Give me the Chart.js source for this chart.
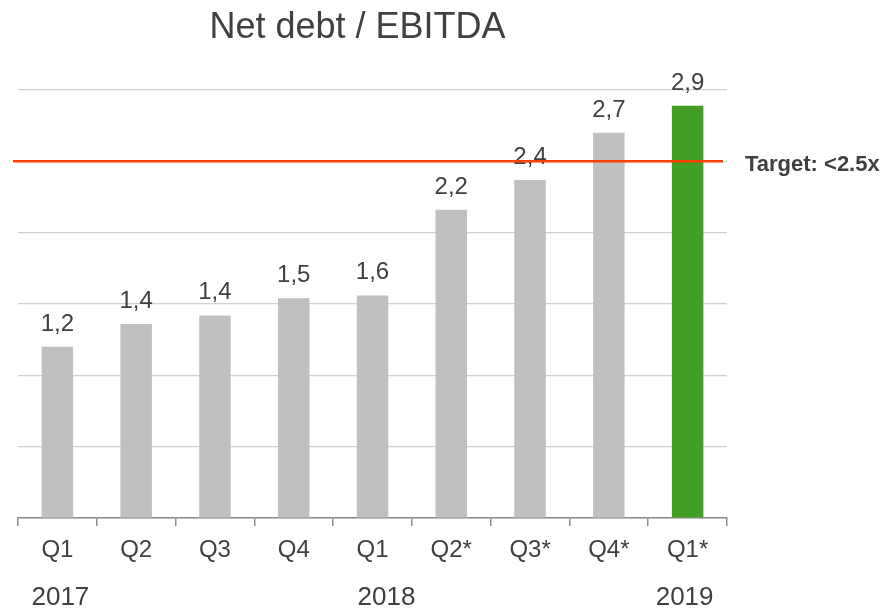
<!DOCTYPE html>
<html>
<head>
<meta charset="utf-8">
<script src="https://cdn.jsdelivr.net/npm/chart.js@4/dist/chart.umd.min.js"></script>
<style>
  html, body { margin: 0; padding: 0; background: #ffffff; }
  #wrap { width: 881px; height: 608px; }
</style>
</head>
<body>
<div id="wrap"><canvas id="c" width="881" height="608"></canvas></div>
<script>
const quarters = ['Q1', 'Q2', 'Q3', 'Q4', 'Q1', 'Q2*', 'Q3*', 'Q4*', 'Q1*'];
const years = ['2017', '', '', '', '2018', '', '', '', '2019'];
const values = [1.2, 1.36, 1.42, 1.54, 1.56, 2.16, 2.37, 2.70, 2.89];
const valueLabels = ['1,2', '1,4', '1,4', '1,5', '1,6', '2,2', '2,4', '2,7', '2,9'];
const barColors = ['#c0c0c0', '#c0c0c0', '#c0c0c0', '#c0c0c0', '#c0c0c0', '#c0c0c0', '#c0c0c0', '#c0c0c0', '#41a025'];
const targetValue = 2.5;
const targetLabel = 'Target: <2.5x';
const titleText = 'Net debt / EBITDA';

const FONT = '"Liberation Sans", Arial, Helvetica, sans-serif';
const TEXT = '#404040';

const overlay = {
  id: 'overlay',
  afterDatasetsDraw(chart) {
    const ctx = chart.ctx;
    const meta = chart.getDatasetMeta(0);
    const x = chart.scales.x;
    const y = chart.scales.y;
    const area = chart.chartArea;
    ctx.save();
    // value labels
    ctx.fillStyle = TEXT;
    ctx.font = '24px ' + FONT;
    ctx.textAlign = 'center';
    ctx.textBaseline = 'alphabetic';
    meta.data.forEach((bar, i) => {
      ctx.fillText(valueLabels[i], bar.x, bar.y - 16);
    });
    // year labels
    ctx.font = '26px ' + FONT;
    ctx.textBaseline = 'middle';
    years.forEach((yr, i) => {
      if (!yr) return;
      const nudge = i === 0 ? 3 : (i === years.length - 1 ? -3 : 14);
      ctx.fillText(yr, x.getPixelForValue(i) + nudge, area.bottom + 80);
    });
    // target line
    const ty = y.getPixelForValue(targetValue);
    ctx.strokeStyle = '#ff4000';
    ctx.lineWidth = 2.5;
    ctx.beginPath();
    ctx.moveTo(area.left - 5, ty);
    ctx.lineTo(area.right - 4, ty);
    ctx.stroke();
    ctx.fillStyle = TEXT;
    ctx.font = 'bold 22px ' + FONT;
    ctx.textAlign = 'left';
    ctx.textBaseline = 'middle';
    ctx.fillText(targetLabel, area.right + 18, ty + 4);
    // title
    ctx.font = '36px ' + FONT;
    ctx.textAlign = 'center';
    ctx.textBaseline = 'middle';
    ctx.fillText(titleText, (area.left + area.right) / 2 - 15, 28);
    ctx.restore();
  }
};

new Chart(document.getElementById('c'), {
  type: 'bar',
  data: {
    labels: quarters,
    datasets: [{
      data: values,
      backgroundColor: barColors,
      borderWidth: 0,
      categoryPercentage: 1,
      barPercentage: 0.4
    }]
  },
  options: {
    responsive: false,
    animation: false,
    devicePixelRatio: 1,
    layout: { padding: { left: 18, right: 154, top: 90, bottom: 0 } },
    plugins: { legend: { display: false }, tooltip: { enabled: false }, title: { display: false } },
    scales: {
      x: {
        offset: true,
        grid: { display: true, drawOnChartArea: false, drawTicks: true, tickLength: 8, color: '#8c8c8c', lineWidth: 1.5, offset: true },
        border: { display: true, color: '#8c8c8c', width: 1.5 },
        ticks: { color: TEXT, font: { family: FONT, size: 24, lineHeight: 1.2 }, padding: 10, maxRotation: 0, autoSkip: false },
        afterFit(scale) { scale.height = 90; }
      },
      y: {
        min: 0, max: 3,
        ticks: { display: false, stepSize: 0.5 },
        grid: { color: '#d0d0d0', lineWidth: 1.2, drawTicks: false },
        border: { display: false },
        afterFit(scale) { scale.width = 0; }
      }
    }
  },
  plugins: [overlay]
});
</script>
</body>
</html>
